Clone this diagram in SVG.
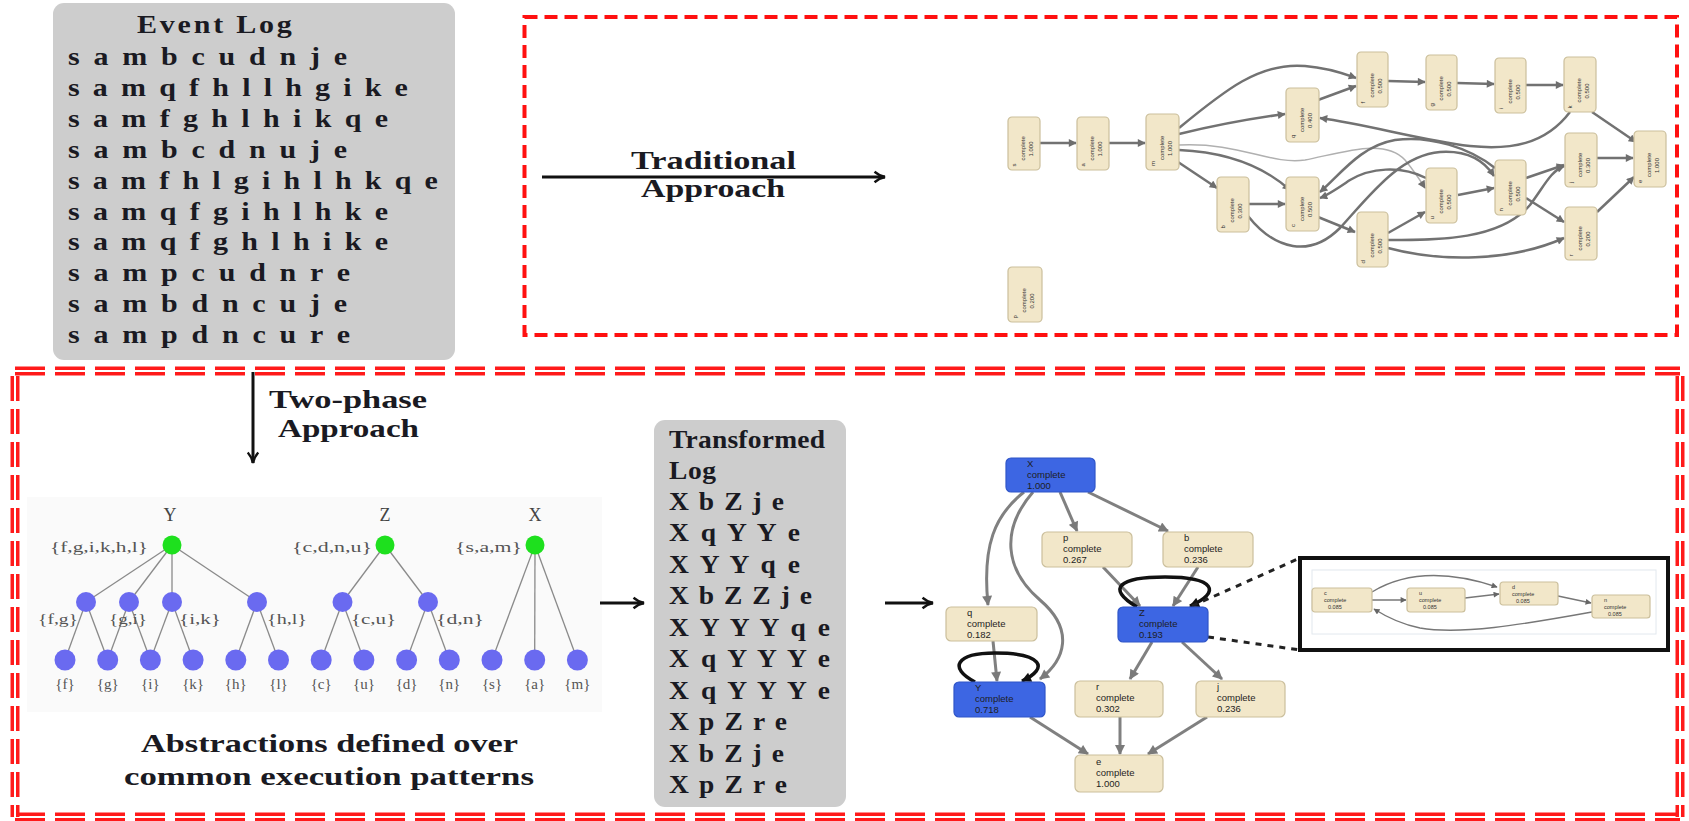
<svg xmlns="http://www.w3.org/2000/svg" width="1689" height="821" viewBox="0 0 1689 821">
  <style>
    .bold { font-family: "Liberation Serif", "DejaVu Serif", serif; font-weight: bold; font-size: 25px; fill: #1a1a22; }
    .lbl { font-family: "Liberation Serif", "DejaVu Serif", serif; font-size: 15px; fill: #555; }
    .tlbl { font-family: "Liberation Serif", "DejaVu Serif", serif; font-size: 18px; fill: #444; }
    .logbox { fill: #cdcdcd; }
    .act { fill: #f2e7c9; stroke: #cbbf9c; stroke-width: 1.2; }
    .actb { fill: #3d66e3; stroke: #2f55c8; stroke-width: 1.2; }
    .tn { font-family: "Liberation Sans", "DejaVu Sans", sans-serif; font-size: 6px; fill: #333; }
    .bn { font-family: "Liberation Sans", "DejaVu Sans", sans-serif; font-size: 9.5px; fill: #1e1e1e; }
    .in { font-family: "Liberation Sans", "DejaVu Sans", sans-serif; font-size: 5.5px; fill: #333; }
    .te { fill: none; stroke: #727272; stroke-width: 2.5; marker-end: url(#ah); }
    .be { fill: none; stroke: #808080; stroke-width: 3; marker-end: url(#ag); }
    .loop { fill: none; stroke: #111; stroke-width: 3.5; marker-end: url(#ak); }
    .ie { fill: none; stroke: #777; stroke-width: 1.4; marker-end: url(#ai); }
    .big { fill: none; stroke: #111; stroke-width: 3; marker-end: url(#tip); }
    .tree { stroke: #8a8a8a; stroke-width: 1.3; }
    .root { fill: #1ee01e; }
    .mid { fill: #6a6af0; }
    .dash-top { fill: none; stroke: #ff1010; stroke-width: 4; stroke-dasharray: 13 7; }
    .dbl-red { fill: none; stroke: #ff1a1a; stroke-width: 9; }
    .dbl-white { fill: none; stroke: #ffffff; stroke-width: 2; }
  </style>
  <defs>
    <marker id="tip" viewBox="0 0 12 12" refX="11" refY="6" markerWidth="14" markerHeight="14" markerUnits="userSpaceOnUse" orient="auto">
      <path d="M2,1.5 Q6,5 11,6 Q6,7 2,10.5" fill="none" stroke="#111" stroke-width="2"/>
    </marker>
    <marker id="ah" viewBox="0 0 10 10" refX="9" refY="5" markerWidth="9" markerHeight="8" markerUnits="userSpaceOnUse" orient="auto">
      <path d="M0,0 L10,5 L0,10 z" fill="#6e6e6e"/>
    </marker>
    <marker id="ag" viewBox="0 0 10 10" refX="9" refY="5" markerWidth="12" markerHeight="10" markerUnits="userSpaceOnUse" orient="auto">
      <path d="M0,0 L10,5 L0,10 z" fill="#7a7a7a"/>
    </marker>
    <marker id="ak" viewBox="0 0 10 10" refX="9" refY="5" markerWidth="12" markerHeight="10" markerUnits="userSpaceOnUse" orient="auto">
      <path d="M0,0 L10,5 L0,10 z" fill="#111"/>
    </marker>
    <marker id="ai" viewBox="0 0 10 10" refX="9" refY="5" markerWidth="7" markerHeight="6" markerUnits="userSpaceOnUse" orient="auto">
      <path d="M0,0 L10,5 L0,10 z" fill="#666"/>
    </marker>
  </defs>

  <rect width="1689" height="821" fill="#ffffff"/>

  <!-- frames -->
  <g id="frames">
    <rect class="dash-top" x="524.5" y="17" width="1152.5" height="318"/>
    <g>
      <path class="dbl-red" d="M15,371 H1680" stroke-dasharray="30 10"/>
      <path class="dbl-white" d="M15,371 H1680" stroke-dasharray="30 10"/>
      <path class="dbl-red" d="M15,817 H1680" stroke-dasharray="30 10"/>
      <path class="dbl-white" d="M15,817 H1680" stroke-dasharray="30 10"/>
      <path class="dbl-red" d="M15,376 V817" stroke-dasharray="25 8"/>
      <path class="dbl-white" d="M15,376 V817" stroke-dasharray="25 8"/>
      <path class="dbl-red" d="M1680,376 V817" stroke-dasharray="25 8"/>
      <path class="dbl-white" d="M1680,376 V817" stroke-dasharray="25 8"/>
    </g>
  </g>

  <!-- event log -->
  <g id="event-log">
    <rect class="logbox" x="53" y="3" width="402" height="357" rx="11"/>
    <g class="bold" transform="translate(68,0) scale(1.2,1)">
      <text x="57.5" y="33" textLength="129" lengthAdjust="spacing">Event Log</text>
      <text x="0" y="65" textLength="232.5" lengthAdjust="spacing">s a m b c u d n j e</text>
      <text x="0" y="96" textLength="283.3" lengthAdjust="spacing">s a m q f h l l h g i k e</text>
      <text x="0" y="127" textLength="266.7" lengthAdjust="spacing">s a m f g h l h i k q e</text>
      <text x="0" y="158" textLength="232.5" lengthAdjust="spacing">s a m b c d n u j e</text>
      <text x="0" y="189" textLength="308.3" lengthAdjust="spacing">s a m f h l g i h l h k q e</text>
      <text x="0" y="220" textLength="266.7" lengthAdjust="spacing">s a m q f g i h l h k e</text>
      <text x="0" y="250" textLength="266.7" lengthAdjust="spacing">s a m q f g h l h i k e</text>
      <text x="0" y="281" textLength="235" lengthAdjust="spacing">s a m p c u d n r e</text>
      <text x="0" y="312" textLength="232.5" lengthAdjust="spacing">s a m b d n c u j e</text>
      <text x="0" y="343" textLength="235" lengthAdjust="spacing">s a m p d n c u r e</text>
    </g>
  </g>

  <!-- phase captions -->
  <g id="traditional-label" class="bold">
    <text x="631" y="169" textLength="165" lengthAdjust="spacingAndGlyphs">Traditional</text>
    <text x="641" y="197" textLength="144" lengthAdjust="spacingAndGlyphs">Approach</text>
  </g>
  <g id="two-phase-label" class="bold">
    <text x="269" y="408" textLength="158" lengthAdjust="spacingAndGlyphs">Two-phase</text>
    <text x="278" y="437" textLength="141" lengthAdjust="spacingAndGlyphs">Approach</text>
  </g>

  <!-- abstraction trees -->
  <g id="abstraction-trees">
    <rect x="27" y="497" width="575" height="215" fill="#fafafa"/>
    <g class="tree">
      <line x1="172" y1="545" x2="86" y2="602"/>
      <line x1="172" y1="545" x2="129" y2="602"/>
      <line x1="172" y1="545" x2="172" y2="602"/>
      <line x1="172" y1="545" x2="257" y2="602"/>
      <line x1="385" y1="545" x2="342.5" y2="602"/>
      <line x1="385" y1="545" x2="428" y2="602"/>
      <line x1="535" y1="545" x2="492" y2="660"/>
      <line x1="535" y1="545" x2="534.7" y2="660"/>
      <line x1="535" y1="545" x2="577.4" y2="660"/>
      <line x1="86" y1="602" x2="65" y2="660"/>
      <line x1="86" y1="602" x2="107.7" y2="660"/>
      <line x1="129" y1="602" x2="107.7" y2="660"/>
      <line x1="129" y1="602" x2="150.4" y2="660"/>
      <line x1="172" y1="602" x2="150.4" y2="660"/>
      <line x1="172" y1="602" x2="193.1" y2="660"/>
      <line x1="257" y1="602" x2="235.8" y2="660"/>
      <line x1="257" y1="602" x2="278.5" y2="660"/>
      <line x1="342.5" y1="602" x2="321.2" y2="660"/>
      <line x1="342.5" y1="602" x2="363.9" y2="660"/>
      <line x1="428" y1="602" x2="406.6" y2="660"/>
      <line x1="428" y1="602" x2="449.3" y2="660"/>
    </g>
    <g class="root">
      <circle cx="172" cy="545" r="9.5"/>
      <circle cx="385" cy="545" r="9.5"/>
      <circle cx="535" cy="545" r="9.5"/>
    </g>
    <g class="mid">
      <circle cx="86" cy="602" r="10"/>
      <circle cx="129" cy="602" r="10"/>
      <circle cx="172" cy="602" r="10"/>
      <circle cx="257" cy="602" r="10"/>
      <circle cx="342.5" cy="602" r="10"/>
      <circle cx="428" cy="602" r="10"/>
      <circle cx="65" cy="660" r="10.5"/>
      <circle cx="107.7" cy="660" r="10.5"/>
      <circle cx="150.4" cy="660" r="10.5"/>
      <circle cx="193.1" cy="660" r="10.5"/>
      <circle cx="235.8" cy="660" r="10.5"/>
      <circle cx="278.5" cy="660" r="10.5"/>
      <circle cx="321.2" cy="660" r="10.5"/>
      <circle cx="363.9" cy="660" r="10.5"/>
      <circle cx="406.6" cy="660" r="10.5"/>
      <circle cx="449.3" cy="660" r="10.5"/>
      <circle cx="492" cy="660" r="10.5"/>
      <circle cx="534.7" cy="660" r="10.5"/>
      <circle cx="577.4" cy="660" r="10.5"/>
    </g>
    <g class="tlbl" text-anchor="middle">
      <text x="170" y="521">Y</text>
      <text x="385" y="521">Z</text>
      <text x="535" y="521">X</text>
    </g>
    <g class="lbl">
      <text x="50" y="552" textLength="98" lengthAdjust="spacingAndGlyphs">{f,g,i,k,h,l}</text>
      <text x="292" y="552" textLength="80" lengthAdjust="spacingAndGlyphs">{c,d,n,u}</text>
      <text x="455" y="552" textLength="67" lengthAdjust="spacingAndGlyphs">{s,a,m}</text>
      <text x="38" y="624" textLength="40" lengthAdjust="spacingAndGlyphs">{f,g}</text>
      <text x="109" y="624" textLength="38" lengthAdjust="spacingAndGlyphs">{g,i}</text>
      <text x="179" y="624" textLength="42" lengthAdjust="spacingAndGlyphs">{i,k}</text>
      <text x="267" y="624" textLength="40" lengthAdjust="spacingAndGlyphs">{h,l}</text>
      <text x="351" y="624" textLength="45" lengthAdjust="spacingAndGlyphs">{c,u}</text>
      <text x="436" y="624" textLength="48" lengthAdjust="spacingAndGlyphs">{d,n}</text>
    </g>
    <g class="lbl" text-anchor="middle">
      <text x="65" y="689">{f}</text>
      <text x="107.7" y="689">{g}</text>
      <text x="150.4" y="689">{i}</text>
      <text x="193.1" y="689">{k}</text>
      <text x="235.8" y="689">{h}</text>
      <text x="278.5" y="689">{l}</text>
      <text x="321.2" y="689">{c}</text>
      <text x="363.9" y="689">{u}</text>
      <text x="406.6" y="689">{d}</text>
      <text x="449.3" y="689">{n}</text>
      <text x="492" y="689">{s}</text>
      <text x="534.7" y="689">{a}</text>
      <text x="577.4" y="689">{m}</text>
    </g>
    <g class="bold">
      <text x="141" y="752" textLength="377" lengthAdjust="spacingAndGlyphs">Abstractions defined over</text>
      <text x="124" y="785" textLength="410" lengthAdjust="spacingAndGlyphs">common execution patterns</text>
    </g>
  </g>

  <!-- transformed log -->
  <g id="transformed-log">
    <rect class="logbox" x="654" y="420" width="192" height="387" rx="11"/>
    <g class="bold" transform="translate(669,0) scale(1.1,1)">
      <text x="0" y="448" textLength="141.8" lengthAdjust="spacing">Transformed</text>
      <text x="0" y="479" textLength="42.7" lengthAdjust="spacing">Log</text>
      <text x="0" y="510" textLength="104.5" lengthAdjust="spacing">X b Z j e</text>
      <text x="0" y="541.5" textLength="119" lengthAdjust="spacing">X q Y Y e</text>
      <text x="0" y="573" textLength="119" lengthAdjust="spacing">X Y Y q e</text>
      <text x="0" y="604.5" textLength="130" lengthAdjust="spacing">X b Z Z j e</text>
      <text x="0" y="636" textLength="146.4" lengthAdjust="spacing">X Y Y Y q e</text>
      <text x="0" y="667.5" textLength="146.4" lengthAdjust="spacing">X q Y Y Y e</text>
      <text x="0" y="699" textLength="146.4" lengthAdjust="spacing">X q Y Y Y e</text>
      <text x="0" y="730.5" textLength="107.3" lengthAdjust="spacing">X p Z r e</text>
      <text x="0" y="762" textLength="104.5" lengthAdjust="spacing">X b Z j e</text>
      <text x="0" y="793.5" textLength="107.3" lengthAdjust="spacing">X p Z r e</text>
    </g>
  </g>

  <!-- flow arrows between stages -->
  <g id="stage-arrows">
    <path class="big" d="M542,177 H885"/>
    <path class="big" d="M253,372 V463"/>
    <path class="big" d="M600,603 H644"/>
    <path class="big" d="M885,603 H933"/>
  </g>

  <!-- mined model of the raw log: connectors -->
  <g id="raw-model-edges">
    <path class="te" d="M1040,143 L1076,143"/>
    <path class="te" d="M1109,143 L1145,143"/>
    <path class="te" d="M1179,128 C1225,90 1260,62 1305,66 C1330,68 1345,74 1356,78"/>
    <path class="te" d="M1179,134 C1220,124 1255,118 1285,114"/>
    <path class="te" d="M1318,100 L1356,86"/>
    <path class="te" d="M1388,81 L1425,82"/>
    <path class="te" d="M1457,83 L1494,84"/>
    <path class="te" d="M1526,85 L1563,85"/>
    <path class="te" d="M1570,112 C1545,145 1510,150 1470,146 C1420,140 1370,125 1320,118"/>
    <path class="te" d="M1592,112 L1636,142"/>
    <path class="te" d="M1597,158 L1633,158"/>
    <path class="te" d="M1597,212 L1634,177"/>
    <path class="te" d="M1175,160 L1217,188"/>
    <path class="te" d="M1179,150 C1225,152 1262,165 1290,190"/>
    <path class="te" d="M1179,145 C1240,142 1270,165 1305,160 C1345,152 1385,138 1405,160 C1415,172 1420,180 1425,188" style="stroke:#b0b0b0;stroke-width:1.5"/>
    <path class="te" d="M1249,204 L1285,204"/>
    <path class="te" d="M1248,216 C1275,250 1310,258 1340,228 C1370,195 1400,155 1440,152 C1470,150 1485,162 1494,176"/>
    <path class="te" d="M1318,217 L1355,232"/>
    <path class="te" d="M1388,233 L1425,212"/>
    <path class="te" d="M1388,240 C1440,240 1500,240 1530,205 C1545,185 1550,172 1564,166"/>
    <path class="te" d="M1388,248 C1440,262 1510,262 1564,238"/>
    <path class="te" d="M1458,195 L1494,188"/>
    <path class="te" d="M1526,178 L1564,165"/>
    <path class="te" d="M1526,198 L1564,222"/>
    <path class="te" d="M1495,168 C1470,148 1430,135 1395,140 C1360,146 1340,175 1320,192"/>
    <path class="te" d="M1426,178 C1400,165 1370,168 1350,180 C1338,188 1328,195 1320,198"/>
  </g>

  <!-- mined model of the raw log: activities -->
  <g id="raw-n0" transform="translate(1008,267)"><rect class="act" width="34" height="55" rx="4"/><text class="tn" transform="translate(17,27.5) rotate(-90)"><tspan x="-24" y="-8">p</tspan><tspan x="-18" y="1">complete</tspan><tspan x="-14" y="9">0.200</tspan></text></g>
  <g id="raw-s" transform="translate(1008,117)"><rect class="act" width="32" height="53" rx="4"/><text class="tn" transform="translate(16,26.5) rotate(-90)"><tspan x="-23" y="-8">s</tspan><tspan x="-17" y="1">complete</tspan><tspan x="-13" y="9">1.000</tspan></text></g>
  <g id="raw-a" transform="translate(1077,117)"><rect class="act" width="32" height="53" rx="4"/><text class="tn" transform="translate(16,26.5) rotate(-90)"><tspan x="-23" y="-8">a</tspan><tspan x="-17" y="1">complete</tspan><tspan x="-13" y="9">1.000</tspan></text></g>
  <g id="raw-m" transform="translate(1146,114)"><rect class="act" width="33" height="56" rx="4"/><text class="tn" transform="translate(16.5,28) rotate(-90)"><tspan x="-24" y="-8">m</tspan><tspan x="-18" y="1">complete</tspan><tspan x="-14" y="9">1.000</tspan></text></g>
  <g id="raw-q" transform="translate(1286,88)"><rect class="act" width="33" height="54" rx="4"/><text class="tn" transform="translate(16.5,27) rotate(-90)"><tspan x="-23" y="-8">q</tspan><tspan x="-17" y="1">complete</tspan><tspan x="-13" y="9">0.400</tspan></text></g>
  <g id="raw-b" transform="translate(1217,177)"><rect class="act" width="32" height="55" rx="4"/><text class="tn" transform="translate(16,27.5) rotate(-90)"><tspan x="-24" y="-8">b</tspan><tspan x="-18" y="1">complete</tspan><tspan x="-14" y="9">0.300</tspan></text></g>
  <g id="raw-c" transform="translate(1286,177)"><rect class="act" width="33" height="54" rx="4"/><text class="tn" transform="translate(16.5,27) rotate(-90)"><tspan x="-23" y="-8">c</tspan><tspan x="-17" y="1">complete</tspan><tspan x="-13" y="9">0.500</tspan></text></g>
  <g id="raw-d" transform="translate(1357,212)"><rect class="act" width="31" height="55" rx="4"/><text class="tn" transform="translate(15.5,27.5) rotate(-90)"><tspan x="-24" y="-8">d</tspan><tspan x="-18" y="1">complete</tspan><tspan x="-14" y="9">0.500</tspan></text></g>
  <g id="raw-f" transform="translate(1357,52)"><rect class="act" width="31" height="55" rx="4"/><text class="tn" transform="translate(15.5,27.5) rotate(-90)"><tspan x="-24" y="-8">f</tspan><tspan x="-18" y="1">complete</tspan><tspan x="-14" y="9">0.500</tspan></text></g>
  <g id="raw-g" transform="translate(1426,55)"><rect class="act" width="31" height="55" rx="4"/><text class="tn" transform="translate(15.5,27.5) rotate(-90)"><tspan x="-24" y="-8">g</tspan><tspan x="-18" y="1">complete</tspan><tspan x="-14" y="9">0.500</tspan></text></g>
  <g id="raw-i" transform="translate(1495,58)"><rect class="act" width="31" height="55" rx="4"/><text class="tn" transform="translate(15.5,27.5) rotate(-90)"><tspan x="-24" y="-8">i</tspan><tspan x="-18" y="1">complete</tspan><tspan x="-14" y="9">0.500</tspan></text></g>
  <g id="raw-k" transform="translate(1564,57)"><rect class="act" width="32" height="55" rx="4"/><text class="tn" transform="translate(16,27.5) rotate(-90)"><tspan x="-24" y="-8">k</tspan><tspan x="-18" y="1">complete</tspan><tspan x="-14" y="9">0.500</tspan></text></g>
  <g id="raw-u" transform="translate(1426,168)"><rect class="act" width="31" height="55" rx="4"/><text class="tn" transform="translate(15.5,27.5) rotate(-90)"><tspan x="-24" y="-8">u</tspan><tspan x="-18" y="1">complete</tspan><tspan x="-14" y="9">0.500</tspan></text></g>
  <g id="raw-n" transform="translate(1495,160)"><rect class="act" width="31" height="55" rx="4"/><text class="tn" transform="translate(15.5,27.5) rotate(-90)"><tspan x="-24" y="-8">n</tspan><tspan x="-18" y="1">complete</tspan><tspan x="-14" y="9">0.500</tspan></text></g>
  <g id="raw-j" transform="translate(1565,133)"><rect class="act" width="32" height="54" rx="4"/><text class="tn" transform="translate(16,27) rotate(-90)"><tspan x="-23" y="-8">j</tspan><tspan x="-17" y="1">complete</tspan><tspan x="-13" y="9">0.300</tspan></text></g>
  <g id="raw-r" transform="translate(1565,207)"><rect class="act" width="32" height="53" rx="4"/><text class="tn" transform="translate(16,26.5) rotate(-90)"><tspan x="-23" y="-8">r</tspan><tspan x="-17" y="1">complete</tspan><tspan x="-13" y="9">0.200</tspan></text></g>
  <g id="raw-e" transform="translate(1634,131)"><rect class="act" width="32" height="56" rx="4"/><text class="tn" transform="translate(16,28) rotate(-90)"><tspan x="-24" y="-8">e</tspan><tspan x="-18" y="1">complete</tspan><tspan x="-14" y="9">1.000</tspan></text></g>

  <!-- mined model of the transformed log: connectors -->
  <g id="abstract-model-edges">
    <path class="be" d="M1024,492 C995,515 982,545 988,605"/>
    <path class="be" d="M1033,492 C1000,530 1005,570 1040,600 C1075,630 1065,660 1040,679"/>
    <path class="be" d="M1060,492 L1077,531"/>
    <path class="be" d="M1088,492 L1168,531"/>
    <path class="be" d="M1103,567 L1140,606"/>
    <path class="be" d="M1198,567 L1173,606"/>
    <path class="be" d="M1152,642 L1130,679"/>
    <path class="be" d="M1182,642 L1222,679"/>
    <path class="be" d="M993,641 L997,681"/>
    <path class="be" d="M1030,717 L1088,754"/>
    <path class="be" d="M1120,717 L1120,754"/>
    <path class="be" d="M1207,717 L1148,754"/>
    <path class="loop" d="M1137,607 C1105,588 1120,577 1165,577 C1215,577 1222,592 1190,606"/>
    <path class="loop" d="M975,682 C948,668 956,653 995,653 C1042,653 1050,668 1022,681"/>
    <path d="M1192,606 L1300,558 M1208,637 L1300,650" fill="none" stroke="#222" stroke-width="3" stroke-dasharray="6 6"/>
  </g>

  <!-- mined model of the transformed log: activities -->
  <g id="abs-X" transform="translate(1006,458)"><rect class="actb" width="89" height="34" rx="5"/><text class="bn"><tspan x="21" y="9">X</tspan><tspan x="21" y="20">complete</tspan><tspan x="21" y="31">1.000</tspan></text></g>
  <g id="abs-p" transform="translate(1042,532)"><rect class="act" width="90" height="35" rx="5"/><text class="bn"><tspan x="21" y="9">p</tspan><tspan x="21" y="20">complete</tspan><tspan x="21" y="31">0.267</tspan></text></g>
  <g id="abs-b" transform="translate(1163,532)"><rect class="act" width="90" height="35" rx="5"/><text class="bn"><tspan x="21" y="9">b</tspan><tspan x="21" y="20">complete</tspan><tspan x="21" y="31">0.236</tspan></text></g>
  <g id="abs-q" transform="translate(946,607)"><rect class="act" width="91" height="34" rx="5"/><text class="bn"><tspan x="21" y="9">q</tspan><tspan x="21" y="20">complete</tspan><tspan x="21" y="31">0.182</tspan></text></g>
  <g id="abs-Z" transform="translate(1118,607)"><rect class="actb" width="90" height="35" rx="5"/><text class="bn"><tspan x="21" y="9">Z</tspan><tspan x="21" y="20">complete</tspan><tspan x="21" y="31">0.193</tspan></text></g>
  <g id="abs-Y" transform="translate(954,682)"><rect class="actb" width="91" height="35" rx="5"/><text class="bn"><tspan x="21" y="9">Y</tspan><tspan x="21" y="20">complete</tspan><tspan x="21" y="31">0.718</tspan></text></g>
  <g id="abs-r" transform="translate(1075,681)"><rect class="act" width="88" height="36" rx="5"/><text class="bn"><tspan x="21" y="9">r</tspan><tspan x="21" y="20">complete</tspan><tspan x="21" y="31">0.302</tspan></text></g>
  <g id="abs-j" transform="translate(1196,681)"><rect class="act" width="89" height="36" rx="5"/><text class="bn"><tspan x="21" y="9">j</tspan><tspan x="21" y="20">complete</tspan><tspan x="21" y="31">0.236</tspan></text></g>
  <g id="abs-e" transform="translate(1075,755)"><rect class="act" width="88" height="37" rx="5"/><text class="bn"><tspan x="21" y="10">e</tspan><tspan x="21" y="21">complete</tspan><tspan x="21" y="32">1.000</tspan></text></g>

  <!-- zoomed view of abstraction Z -->
  <g id="inset-Z">
    <rect x="1300" y="558" width="368" height="92" fill="#ffffff" stroke="#111" stroke-width="4"/>
    <rect x="1312" y="570" width="344" height="64" fill="none" stroke="#e2e8ee" stroke-width="1"/>
    <g>
      <path class="ie" d="M1372,592 C1400,575 1440,568 1497,587"/>
      <path class="ie" d="M1372,600 L1406,600"/>
      <path class="ie" d="M1465,598 L1499,594"/>
      <path class="ie" d="M1558,596 L1591,603"/>
      <path class="ie" d="M1592,612 C1520,625 1460,635 1420,628 C1400,624 1385,616 1374,609"/>
    </g>
    <g id="inset-c" transform="translate(1312,588)"><rect class="act" width="60" height="24" rx="3"/><text class="in"><tspan x="12" y="7">c</tspan><tspan x="12" y="14">complete</tspan><tspan x="16" y="21">0.085</tspan></text></g>
    <g id="inset-u" transform="translate(1407,588)"><rect class="act" width="58" height="24" rx="3"/><text class="in"><tspan x="12" y="7">u</tspan><tspan x="12" y="14">complete</tspan><tspan x="16" y="21">0.085</tspan></text></g>
    <g id="inset-d" transform="translate(1500,582)"><rect class="act" width="58" height="23" rx="3"/><text class="in"><tspan x="12" y="7">d</tspan><tspan x="12" y="14">complete</tspan><tspan x="16" y="21">0.085</tspan></text></g>
    <g id="inset-n" transform="translate(1592,595)"><rect class="act" width="58" height="23" rx="3"/><text class="in"><tspan x="12" y="7">n</tspan><tspan x="12" y="14">complete</tspan><tspan x="16" y="21">0.085</tspan></text></g>
  </g>
</svg>
